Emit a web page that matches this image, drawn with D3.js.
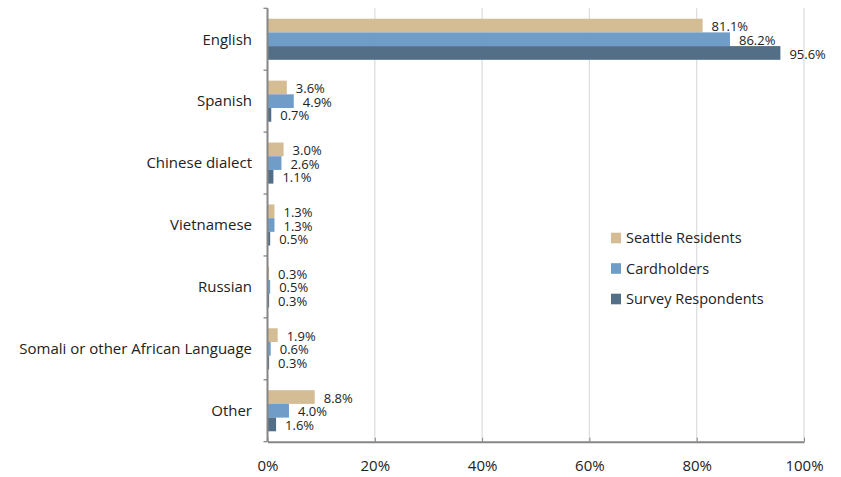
<!DOCTYPE html>
<html>
<head>
<meta charset="utf-8">
<script src="https://cdn.jsdelivr.net/npm/d3@7"></script>
<style>
  body { margin: 0; background: #fff; }
  text { font-family: "Open Sans", sans-serif; fill: #222; }
</style>
</head>
<body>
<svg id="chart"></svg>
<script>
// chart data
var languages = ["English", "Spanish", "Chinese dialect", "Vietnamese", "Russian",
                 "Somali or other African Language", "Other"];
var seriesNames = ["Seattle Residents", "Cardholders", "Survey Respondents"];
var residents   = [81.1, 3.6, 3.0, 1.3, 0.3, 1.9, 8.8];
var cardholders = [86.2, 4.9, 2.6, 1.3, 0.5, 0.6, 4.0];
var respondents = [95.6, 0.7, 1.1, 0.5, 0.3, 0.3, 1.6];
var xTicks = [0, 20, 40, 60, 80, 100];
var colors = ["#d4bc95", "#6f9dc7", "#536e87"];

var width = 841, height = 477;
var seriesValues = [residents, cardholders, respondents];

var svg = d3.select("#chart")
    .attr("width", width)
    .attr("height", height);

var x = d3.scaleLinear().domain([0, 100]).range([267.5, 804]);

var y0 = d3.scaleBand().domain(languages).range([8.3, 441.7]);
var y1 = d3.scaleBand().domain(seriesNames)
    .range([0, y0.bandwidth()])
    .paddingInner(0)
    .paddingOuter(0.76);

// gridlines
svg.append("g")
  .selectAll("line")
  .data(xTicks.slice(1))
  .enter().append("line")
    .attr("x1", function(d) { return x(d); })
    .attr("x2", function(d) { return x(d); })
    .attr("y1", 8.3)
    .attr("y2", 441.7)
    .style("stroke", "#dedede")
    .style("stroke-width", 1.3);

// bars
var groups = svg.append("g")
  .selectAll("g")
  .data(languages)
  .enter().append("g")
    .attr("transform", function(d) { return "translate(0," + y0(d) + ")"; });

function rows(d, i) {
  return seriesNames.map(function(s, j) { return {series: s, j: j, value: seriesValues[j][i]}; });
}

groups.selectAll("rect")
  .data(rows)
  .enter().append("rect")
    .attr("x", x(0))
    .attr("y", function(d) { return y1(d.series); })
    .attr("width", function(d) { return x(d.value) - x(0); })
    .attr("height", y1.bandwidth())
    .attr("fill", function(d) { return colors[d.j]; });

groups.selectAll("text")
  .data(rows)
  .enter().append("text")
    .attr("x", function(d) { return x(d.value) + 9; })
    .attr("y", function(d) { return y1(d.series) + y1.bandwidth() / 2 + 1; })
    .attr("dy", "0.35em")
    .style("font-size", "13px")
    .text(function(d) { return d.value.toFixed(1) + "%"; });

// x axis
var xAxis = d3.axisBottom(x)
    .tickValues(xTicks)
    .tickSize(4)
    .tickSizeOuter(0)
    .tickFormat(function(d) { return d + "%"; });

var gx = svg.append("g")
    .attr("transform", "translate(0,441.7)")
    .call(xAxis);
gx.select(".domain").style("stroke", "#868686").style("stroke-width", 2);
gx.selectAll(".tick line").style("stroke", "#868686").attr("y1", -4).attr("y2", 0);
gx.selectAll(".tick text")
    .attr("y", 19)
    .attr("dy", "0.71em")
    .style("font-size", "15px")
    .style("fill", "#222");

// y axis
var bounds = languages.map(function(d) { return y0(d); }).concat([441.7]);
svg.append("line")
    .attr("x1", x(0)).attr("x2", x(0))
    .attr("y1", 8.3).attr("y2", 441.7)
    .style("stroke", "#868686").style("stroke-width", 2);
svg.append("g")
  .selectAll("line")
  .data(bounds)
  .enter().append("line")
    .attr("x1", x(0) - 4).attr("x2", x(0))
    .attr("y1", function(d) { return d; })
    .attr("y2", function(d) { return d; })
    .style("stroke", "#868686").style("stroke-width", 1.3);

svg.append("g")
  .selectAll("text")
  .data(languages)
  .enter().append("text")
    .attr("x", 252)
    .attr("y", function(d) { return y0(d) + y0.bandwidth() / 2; })
    .attr("dy", "0.35em")
    .attr("text-anchor", "end")
    .style("font-size", "15px")
    .text(function(d) { return d; });

// legend
var legend = svg.append("g")
  .selectAll("g")
  .data(seriesNames)
  .enter().append("g")
    .attr("transform", function(d, i) { return "translate(611," + (238 + i * 30.5) + ")"; });
legend.append("rect")
    .attr("x", 0).attr("y", -5.3)
    .attr("width", 10).attr("height", 10.6)
    .attr("fill", function(d, i) { return colors[i]; });
legend.append("text")
    .attr("x", 15)
    .attr("y", 0)
    .attr("dy", "0.35em")
    .style("font-size", "14.5px")
    .text(function(d) { return d; });
</script>
</body>
</html>
